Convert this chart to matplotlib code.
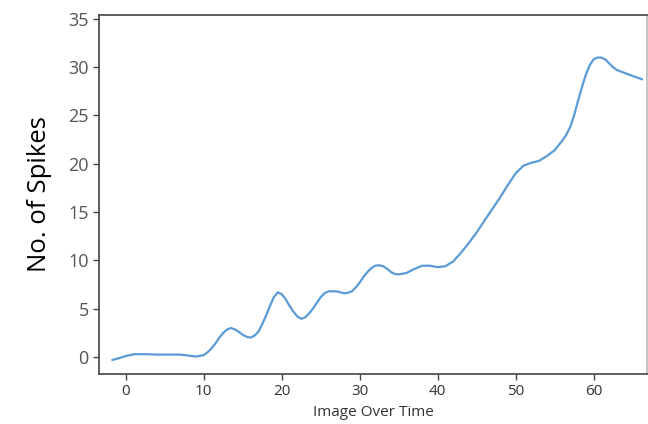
import matplotlib
matplotlib.use('Agg')
import matplotlib.pyplot as plt

frames = [-1.7, -1, 0, 1, 2, 3, 4, 5, 6, 7, 8, 9, 10, 10.5, 11, 11.5, 12, 12.5, 13,
          13.5, 14, 14.5, 15, 15.5, 16, 16.5, 17, 17.5, 18, 18.5, 19, 19.5, 20, 20.5,
          21, 21.5, 22, 22.5, 23, 23.5, 24, 24.5, 25, 25.5, 26, 27, 27.5, 28, 28.5,
          29, 29.5, 30, 30.5, 31, 31.5, 32, 32.5, 33, 33.5, 34, 34.5, 35, 36, 37,
          38, 39, 40, 41, 42, 43, 44, 45, 46, 47, 48, 49, 50, 51, 52, 53, 54, 55,
          56, 56.5, 57, 57.5, 58, 58.5, 59, 59.5, 60, 60.5, 61, 61.5, 62, 62.5, 63,
          64, 65, 66.2]
spikes = [-0.3, -0.15, 0.1, 0.28, 0.3, 0.28, 0.25, 0.25, 0.25, 0.25, 0.15, 0.05,
          0.2, 0.5, 0.9, 1.4, 2.0, 2.5, 2.85, 3.0, 2.85, 2.6, 2.3, 2.1, 2.0, 2.2,
          2.6, 3.4, 4.3, 5.3, 6.2, 6.7, 6.5, 6.0, 5.3, 4.7, 4.2, 3.95, 4.1, 4.5,
          5.0, 5.6, 6.2, 6.6, 6.8, 6.8, 6.7, 6.6, 6.65, 6.8, 7.2, 7.7, 8.3, 8.8,
          9.2, 9.45, 9.5, 9.4, 9.15, 8.8, 8.6, 8.55, 8.7, 9.1, 9.45, 9.45, 9.3,
          9.4, 9.9, 10.8, 11.8, 12.9, 14.1, 15.3, 16.5, 17.8, 19.0, 19.8, 20.1,
          20.3, 20.8, 21.4, 22.4, 23.0, 23.8, 25.0, 26.5, 27.9, 29.2, 30.2, 30.8,
          31.0, 31.0, 30.8, 30.4, 30.0, 29.7, 29.4, 29.1, 28.75]

xticks = [0, 10, 20, 30, 40, 50, 60]
yticks = [0, 5, 10, 15, 20, 25, 30, 35]

plt.rcParams['font.family'] = ['Open Sans', 'DejaVu Sans']

fig = plt.figure(figsize=(6.48, 4.24), dpi=100)
ax = fig.add_axes([0.1532, 0.1179, 0.8458, 0.8467])

ax.plot(frames, spikes, color='#5b9bd5', linewidth=1.6, solid_joinstyle='round')

ax.set_xlim(-3.4, 66.9)
ax.set_ylim(-1.76, 35.4)
ax.set_xticks(xticks)
ax.set_yticks(yticks)

ax.tick_params(axis='y', labelsize=13, colors='#444444', labelcolor='#555555', length=4, width=1)
ax.tick_params(axis='x', labelsize=11, colors='#444444', labelcolor='#333333', length=4, width=1)

for s in ax.spines.values():
    s.set_color('#444444')
    s.set_linewidth(1.2)
ax.spines['right'].set_color('#bbbbbb')

ax.set_xlabel('Image Over Time', fontsize=11, color='#333333', labelpad=4)
ax.set_ylabel('No. of Spikes', fontsize=18.5, color='black', labelpad=12)

fig.savefig('out.png', dpi=100)
